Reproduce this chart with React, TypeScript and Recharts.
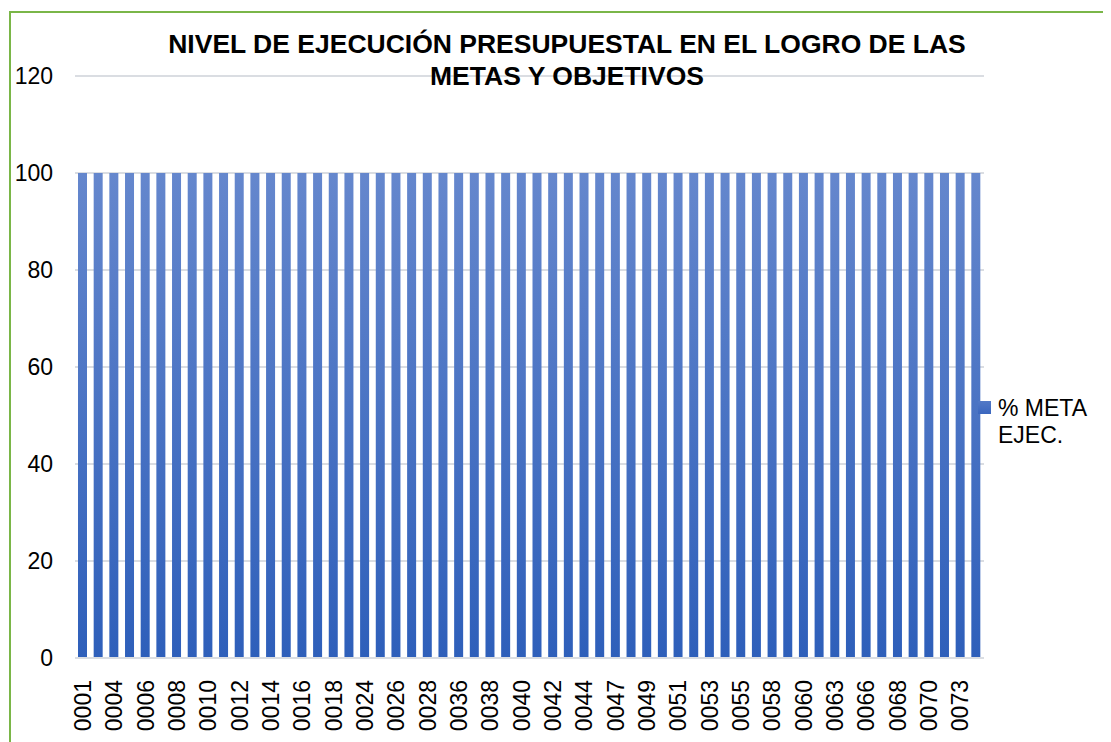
import React from "react";
import { BarChart, Bar, XAxis, YAxis, CartesianGrid } from "recharts";

// category codes (every other one is labelled on the axis)
const codes = [
  "0001", "0003", "0004", "0005", "0006", "0007", "0008", "0009", "0010", "0011",
  "0012", "0013", "0014", "0015", "0016", "0017", "0018", "0020", "0024", "0025",
  "0026", "0027", "0028", "0030", "0036", "0037", "0038", "0039", "0040", "0041",
  "0042", "0043", "0044", "0046", "0047", "0048", "0049", "0050", "0051", "0052",
  "0053", "0054", "0055", "0056", "0058", "0059", "0060", "0061", "0063", "0064",
  "0066", "0067", "0068", "0069", "0070", "0071", "0073", "0074",
];

// % meta ejecutada per code
const metaEjec = [
  100, 100, 100, 100, 100, 100, 100, 100, 100, 100,
  100, 100, 100, 100, 100, 100, 100, 100, 100, 100,
  100, 100, 100, 100, 100, 100, 100, 100, 100, 100,
  100, 100, 100, 100, 100, 100, 100, 100, 100, 100,
  100, 100, 100, 100, 100, 100, 100, 100, 100, 100,
  100, 100, 100, 100, 100, 100, 100, 100,
];

const yTicks = [0, 20, 40, 60, 80, 100, 120];

const titleLines = [
  "NIVEL DE EJECUCIÓN PRESUPUESTAL EN EL LOGRO DE LAS",
  "METAS Y OBJETIVOS",
];
const seriesName = "% META EJEC.";

const data = codes.map((code, i) => ({ code, value: metaEjec[i] }));

const FONT = "'Liberation Sans', Arial, sans-serif";

function CodeTick(props: any) {
  const { x, y, payload } = props;
  return (
    <text
      x={x}
      y={y + 14}
      transform={`rotate(-90, ${x}, ${y + 14})`}
      textAnchor="end"
      dominantBaseline="central"
      fontFamily={FONT}
      fontSize={23}
      fill="#000"
    >
      {payload.value}
    </text>
  );
}

export default function App() {
  return (
    <div
      style={{
        position: "relative",
        width: 1103,
        height: 734,
        overflow: "hidden",
        fontFamily: FONT,
      }}
    >
      {/* green frame, left + top only */}
      <div
        style={{
          position: "absolute",
          left: 1,
          top: 3,
          width: 1102,
          height: 731,
          borderLeft: "2px solid #7ab648",
          borderTop: "2px solid #7ab648",
          boxSizing: "border-box",
        }}
      />
      <BarChart
        width={1103}
        height={734}
        data={data}
        margin={{ top: 68, right: 127, bottom: 0, left: 7 }}
      >
        <defs>
          <linearGradient id="barFill" x1="0" y1="0" x2="0" y2="1">
            <stop offset="0%" stopColor="#6587cd" />
            <stop offset="100%" stopColor="#2e5fba" />
          </linearGradient>
        </defs>
        <CartesianGrid vertical={false} stroke="#dadde2" strokeWidth={2} />
        <XAxis
          dataKey="code"
          interval={1}
          height={84}
          tickLine={false}
          axisLine={{ stroke: "#dadde2", strokeWidth: 2 }}
          tick={<CodeTick />}
        />
        <YAxis
          domain={[0, 120]}
          ticks={yTicks}
          width={60}
          axisLine={false}
          tickLine={false}
          tickSize={0}
          tickMargin={22}
          tick={{ fill: "#000", fontSize: 23, fontFamily: FONT }}
        />
        <Bar
          dataKey="value"
          name={seriesName}
          fill="url(#barFill)"
          barSize={9}
          isAnimationActive={false}
        />
      </BarChart>
      <div
        style={{
          position: "absolute",
          left: 0,
          top: 20,
          width: 1118,
          textAlign: "center",
          fontWeight: "bold",
          fontSize: 26.5,
          lineHeight: "32px",
          color: "#000",
          pointerEvents: "none",
        }}
      >
        {titleLines.map((t) => (
          <div key={t}>{t}</div>
        ))}
      </div>
      <div
        style={{
          position: "absolute",
          left: 970,
          top: 393,
          width: 13,
          height: 13,
          background: "linear-gradient(#5279c6, #3a66bf)",
        }}
      />
      <div
        style={{
          position: "absolute",
          left: 990,
          top: 386.5,
          width: 110,
          fontSize: 23,
          lineHeight: "27px",
          color: "#000",
        }}
      >
        {seriesName.split(" ").slice(0, 2).join(" ")}
        <br />
        {seriesName.split(" ").slice(2).join(" ")}
      </div>
    </div>
  );
}
